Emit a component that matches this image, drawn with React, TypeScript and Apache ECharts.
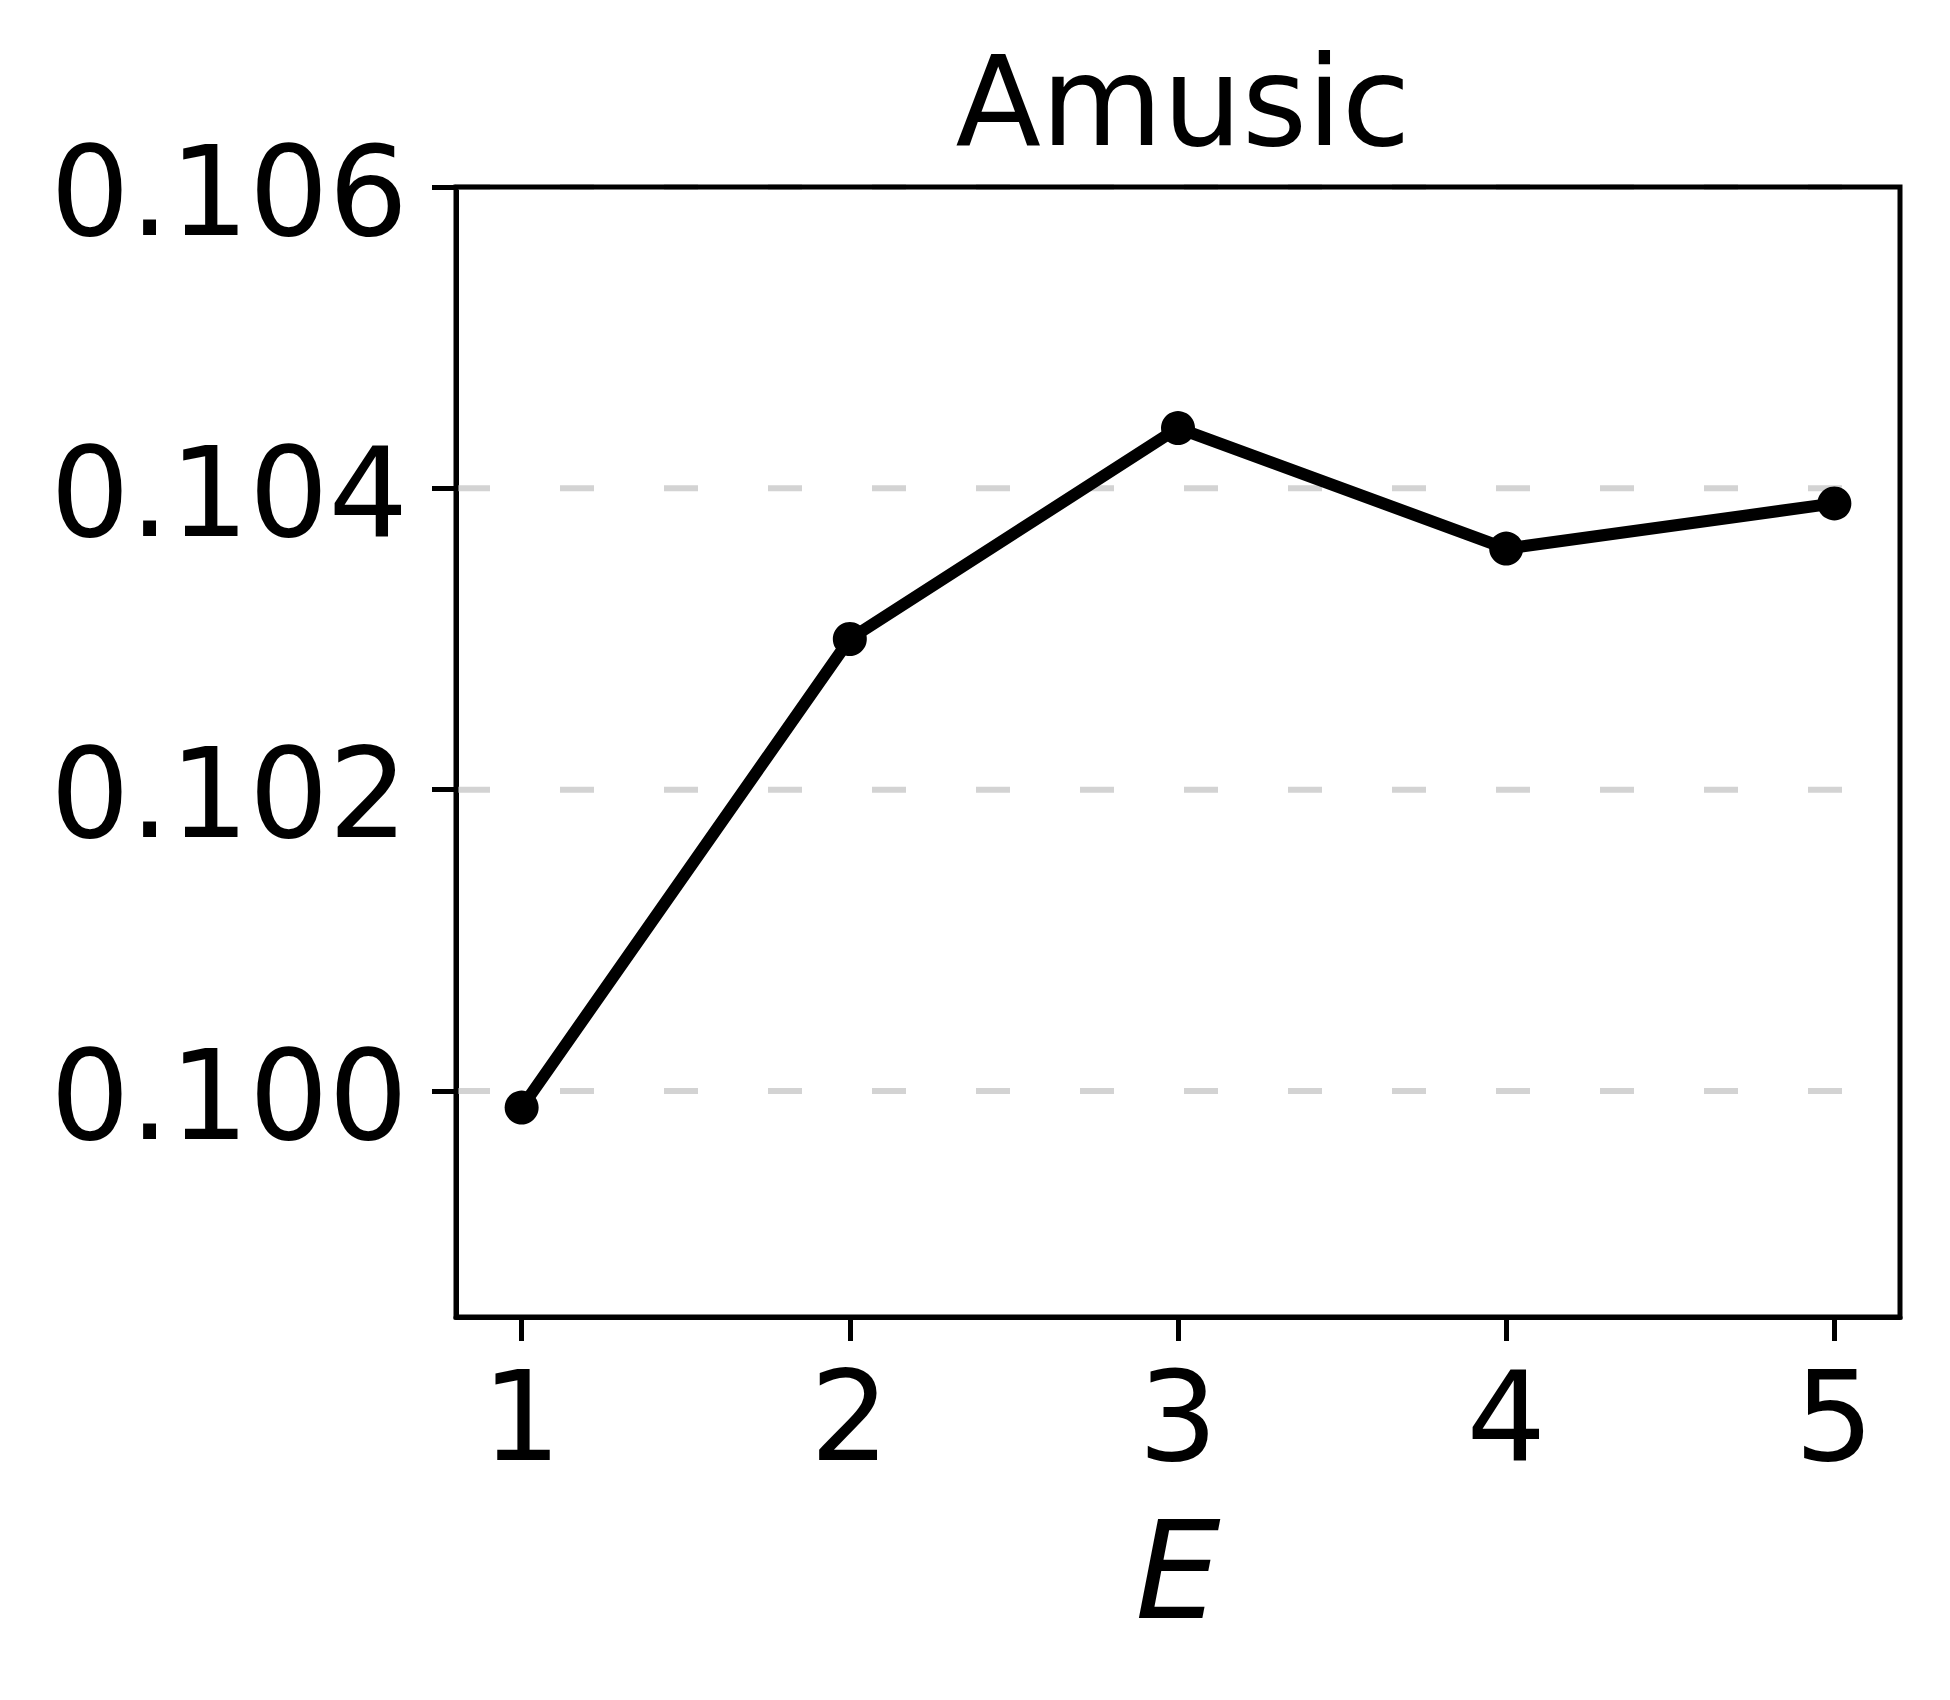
import React, { useEffect, useRef } from "react";
import * as echarts from "echarts";

const xValues = [1, 2, 3, 4, 5];
const yValues = [0.09989, 0.103, 0.1044, 0.1036, 0.1039];
const yTicks = [0.1, 0.102, 0.104, 0.106];
const xTicks = [1, 2, 3, 4, 5];
const xMin = 0.8;
const xMax = 5.2;
const yMin = 0.0985;
const yMax = 0.106;
const titleText = "Amusic";
const xName = "E";

const FONT = "DejaVu Sans";

export default function App() {
  const ref = useRef<HTMLDivElement>(null);
  useEffect(() => {
    if (!ref.current) return;
    const chart = echarts.init(ref.current, null, { renderer: "svg" });
    const data = xValues.map((x, i) => [x, yValues[i]]);
    const gridSeries = yTicks.map((v) => ({
      type: "line",
      data: [
        [xMin, v],
        [xMax, v],
      ],
      z: 1,
      silent: true,
      symbol: "none",
      lineStyle: { color: "#d3d3d3", width: 6, type: [34, 70] },
    }));
    chart.setOption({
      animation: false,
      backgroundColor: "#fff",
      title: {
        text: titleText,
        left: 1178,
        textAlign: "center",
        top: 34,
        textStyle: { fontFamily: FONT, fontSize: 125, fontWeight: "normal", color: "#000" },
      },
      grid: {
        left: 456,
        top: 187,
        right: 50,
        bottom: 383,
        show: true,
        borderColor: "#000",
        borderWidth: 5,
        backgroundColor: "transparent",
        z: 4,
      },
      xAxis: {
        type: "value",
        min: xMin,
        max: xMax,
        name: xName,
        nameLocation: "middle",
        nameGap: 187,
        nameTextStyle: { fontFamily: FONT, fontSize: 135, fontStyle: "italic", color: "#000" },
        axisLine: { show: true, lineStyle: { color: "#000", width: 5 } },
        axisTick: { show: true, length: 24, customValues: xTicks, lineStyle: { color: "#000", width: 5 } },
        axisLabel: {
          customValues: xTicks,
          margin: 37,
          fontFamily: FONT,
          fontSize: 125,
          color: "#000",
        },
        splitLine: { show: false },
      },
      yAxis: {
        type: "value",
        min: yMin,
        max: yMax,
        axisLine: { show: true, lineStyle: { color: "#000", width: 5 } },
        axisTick: { show: true, length: 24, customValues: yTicks, lineStyle: { color: "#000", width: 5 } },
        axisLabel: {
          customValues: yTicks,
          margin: 48,
          fontFamily: FONT,
          fontSize: 125,
          color: "#000",
          formatter: (v: number) => "{t|" + v.toFixed(3) + "}",
          rich: {
            t: {
              fontFamily: FONT,
              fontSize: 125,
              color: "#000",
              padding: [8, 0, 0, 0],
            },
          },
        },
        splitLine: { show: false },
      },
      series: [
        ...gridSeries,
        {
          type: "line",
          data,
          z: 3,
          color: "#000",
          symbol: "circle",
          symbolSize: 34,
          lineStyle: { color: "#000", width: 12 },
          itemStyle: { color: "#000" },
        },
      ],
    });
    return () => chart.dispose();
  }, []);
  return (
    <div
      ref={ref}
      style={{ position: "absolute", left: 0, top: 0, width: 1950, height: 1700 }}
    />
  );
}
